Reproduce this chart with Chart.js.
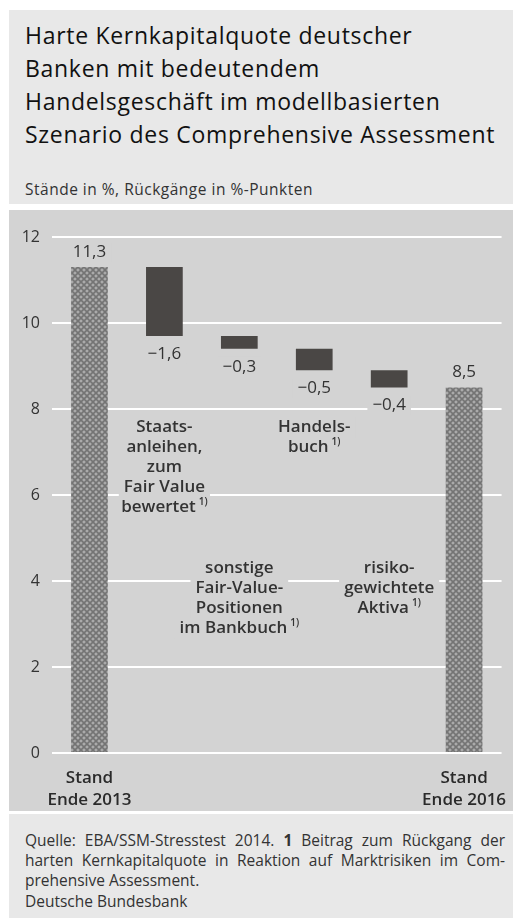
<!DOCTYPE html>
<html>
<head>
<meta charset="utf-8">
<script src="https://cdn.jsdelivr.net/npm/chart.js@4"></script>
<style>
  body { margin: 0; background: #fff; font-family: "Open Sans", sans-serif; color: #222; }
  #page { position: relative; width: 513px; height: 918px; overflow: hidden; }
  .box { position: absolute; left: 9px; width: 504px; }
  #head { top: 10px; height: 194px; background: #e8e8e8; }
  #title { position: absolute; left: 16px; top: 9px; font-size: 23px; line-height: 33px; letter-spacing: 0.7px; color: #111; }
  #sub { position: absolute; left: 16px; top: 169px; font-size: 15.5px; line-height: 20px; letter-spacing: 0.5px; color: #333; }
  #plot { top: 210px; height: 601px; background: #d3d3d3; }
  #foot { top: 814px; height: 104px; background: #e8e8e8; font-size: 15.5px; color: #333; }
  #foot .ln { position: absolute; left: 16px; width: 480px; line-height: 20px; white-space: nowrap; }
  #foot .j { text-align: justify; text-align-last: justify; white-space: normal; }
</style>
</head>
<body>
<div id="page">
  <div class="box" id="head">
    <div id="title">Harte Kernkapitalquote deutscher<br>Banken mit bedeutendem<br>Handelsgeschäft im modellbasierten<br>Szenario des Comprehensive Assessment</div>
    <div id="sub">Stände in %, Rückgänge in %-Punkten</div>
  </div>
  <div class="box" id="plot"><canvas id="chart"></canvas></div>
  <div class="box" id="foot">
    <div class="ln j" style="top:16px">Quelle: EBA/SSM-Stresstest 2014. <b>1</b> Beitrag zum Rückgang der</div>
    <div class="ln j" style="top:36px">harten Kernkapitalquote in Reaktion auf Marktrisiken im Com-</div>
    <div class="ln" style="top:56px">prehensive Assessment.</div>
    <div class="ln" style="top:77px">Deutsche Bundesbank</div>
  </div>
</div>
<script>
// data
const categories = ['Stand Ende 2013', 'Staatsanleihen, zum Fair Value bewertet', 'sonstige Fair-Value-Positionen im Bankbuch', 'Handelsbuch', 'risikogewichtete Aktiva', 'Stand Ende 2016'];
const labelLines = [
  ['Stand', 'Ende 2013'],
  ['Staats-', 'anleihen,', 'zum', 'Fair Value', 'bewertet'],
  ['sonstige', 'Fair-Value-', 'Positionen', 'im Bankbuch'],
  ['Handels-', 'buch'],
  ['risiko-', 'gewichtete', 'Aktiva'],
  ['Stand', 'Ende 2016']
];
const footnoted = [false, true, true, true, true, false];
const startValue = 11.3;
const changes = [-1.6, -0.3, -0.5, -0.4];
const endValue = 8.5;
const yTicks = [0, 2, 4, 6, 8, 10, 12];

// floating bars for the waterfall
const ranges = [[0, startValue]];
let level = startValue;
changes.forEach(c => {
  ranges.push([level + c, level]);
  level += c;
});
ranges.push([0, endValue]);
const shownValues = [startValue].concat(changes, [endValue]);

function fmt(v) {
  const s = Math.abs(v).toFixed(1).replace('.', ',');
  return v < 0 ? '\u2212' + s : s;
}

function hatch() {
  const c = document.createElement('canvas');
  c.width = 6; c.height = 6;
  const g = c.getContext('2d');
  g.fillStyle = '#acacac';
  g.fillRect(0, 0, 6, 6);
  g.strokeStyle = '#747474';
  g.lineWidth = 1.6;
  g.beginPath();
  g.moveTo(-1, -1); g.lineTo(7, 7);
  g.moveTo(-1, 7); g.lineTo(7, -1);
  g.stroke();
  return g.createPattern(c, 'repeat');
}
const pat = hatch();
const plotGray = '#d3d3d3';

// value labels and in-plot category labels with a gray backing
const annotations = {
  id: 'annotations',
  afterDatasetsDraw(chart) {
    const ctx = chart.ctx;
    const meta = chart.getDatasetMeta(0);
    const y = chart.scales.y;
    ctx.save();
    ctx.textBaseline = 'middle';

    function backed(text, x, cy, font, color, note) {
      ctx.font = font;
      const w = ctx.measureText(text).width;
      let nw = 0;
      if (note) {
        ctx.font = '600 10px "Open Sans"';
        nw = ctx.measureText('1)').width + 3;
        ctx.font = font;
      }
      const total = w + nw;
      ctx.fillStyle = plotGray;
      ctx.fillRect(x - total / 2 - 5, cy - 10, total + 10, 20);
      ctx.fillStyle = color;
      ctx.textAlign = 'left';
      ctx.fillText(text, x - total / 2, cy);
      if (note) {
        ctx.font = '600 10px "Open Sans"';
        ctx.fillText('1)', x - total / 2 + w + 3, cy - 5);
      }
    }

    meta.data.forEach((bar, i) => {
      const v = shownValues[i];
      const top = Math.min(bar.y, bar.base);
      const bottom = Math.max(bar.y, bar.base);
      const cy = v < 0 ? bottom + 18 : top - 15;
      backed(fmt(v), bar.x, cy, '17px "Open Sans"', '#333', false);

      if (i > 0 && i < categories.length - 1) {
        const lines = labelLines[i];
        const firstY = (i % 2 === 1) ? y.getPixelForValue(7.58) : y.getPixelForValue(4.3);
        lines.forEach((ln, k) => {
          backed(ln, bar.x, firstY + k * 20, '600 17px "Open Sans"', '#333', footnoted[i] && k === lines.length - 1);
        });
      }
    });
    ctx.restore();
  }
};

new Chart(document.getElementById('chart'), {
  type: 'bar',
  data: {
    labels: categories,
    datasets: [{
      data: ranges,
      backgroundColor: ranges.map((r, i) => (i === 0 || i === ranges.length - 1) ? pat : '#4a4745'),
      borderWidth: 0,
      barPercentage: 0.49,
      categoryPercentage: 1
    }]
  },
  options: {
    responsive: true,
    maintainAspectRatio: false,
    animation: false,
    layout: { padding: { top: 27, right: 11, left: 0, bottom: 0 } },
    plugins: { legend: { display: false }, tooltip: { enabled: false } },
    scales: {
      x: {
        grid: { display: false },
        border: { display: false },
        afterFit: s => { s.height = 58; },
        ticks: {
          padding: 6,
          maxRotation: 0,
          autoSkip: false,
          color: '#2a2a2a',
          font: { family: 'Open Sans', size: 17, weight: '600', lineHeight: 1.3 },
          callback: (v, i) => (i === 0 || i === categories.length - 1) ? labelLines[i] : ''
        }
      },
      y: {
        min: 0,
        max: 12,
        afterFit: s => { s.width = 43; },
        afterBuildTicks: s => { s.ticks = yTicks.map(v => ({ value: v })); },
        grid: { color: '#ffffff', lineWidth: 2, drawTicks: false },
        border: { display: false },
        ticks: {
          padding: 12,
          color: '#333',
          font: { family: 'Open Sans', size: 16 },
          callback: v => String(v)
        }
      }
    }
  },
  plugins: [annotations]
});
</script>
</body>
</html>
